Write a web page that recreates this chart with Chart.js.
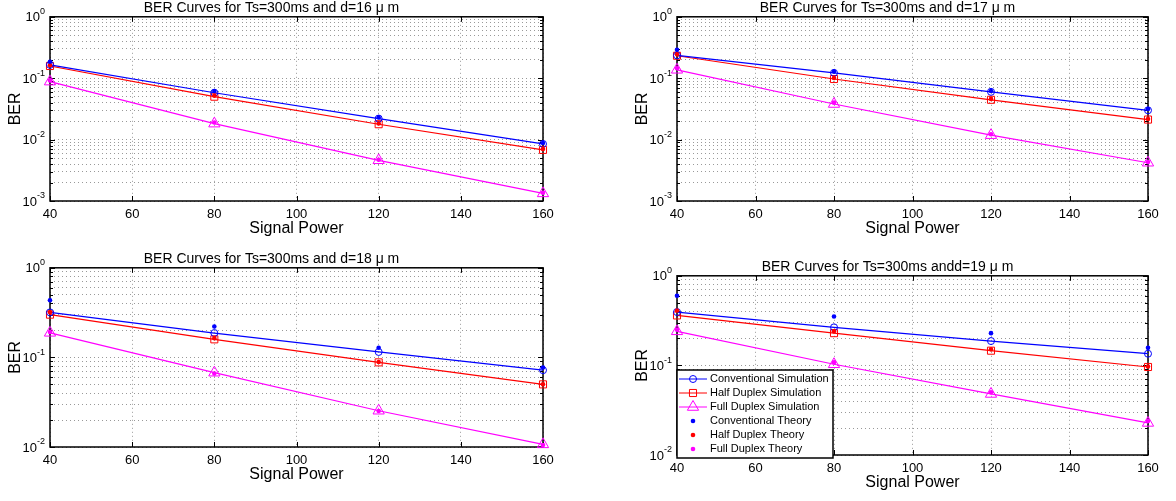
<!DOCTYPE html>
<html lang="en">
<head>
<meta charset="UTF-8">
<title>BER Curves</title>
<script src="https://cdn.jsdelivr.net/npm/chart.js"></script>
<style>
body {
    margin: 0;
    background: #fff;
    width: 1176px;
    height: 501px;
    position: relative;
    overflow: hidden;
}
canvas { position: absolute; }
</style>
</head>
<body>
<canvas id="c16" width="580" height="240" style="left:0;top:0"></canvas>
<canvas id="c17" width="586" height="240" style="left:590px;top:0"></canvas>
<canvas id="c18" width="580" height="253" style="left:0;top:248px"></canvas>
<canvas id="c19" width="586" height="245" style="left:590px;top:256px"></canvas>
<script>
// x positions and tick labels
const signalPower = [40, 80, 120, 160];
const xTicks = [40, 60, 80, 100, 120, 140, 160];
const seriesNames = ['Conventional Simulation', 'Half Duplex Simulation', 'Full Duplex Simulation',
                     'Conventional Theory', 'Half Duplex Theory', 'Full Duplex Theory'];

// d = 16 um  (y from 10^-3)
const convSim16 = [0.165, 0.058, 0.022, 0.0085];
const halfSim16 = [0.158, 0.050, 0.0178, 0.0068];
const fullSim16 = [0.088, 0.0182, 0.0046, 0.00133];
const convTh16  = [0.185, 0.062, 0.023, 0.0088];
const halfTh16  = [0.163, 0.052, 0.0183, 0.0070];
const fullTh16  = [0.092, 0.019, 0.0047, 0.00136];
const yExp16 = [-3, -2, -1, 0];

// d = 17 um
const convSim17 = [0.235, 0.122, 0.060, 0.030];
const halfSim17 = [0.232, 0.097, 0.0445, 0.0212];
const fullSim17 = [0.137, 0.038, 0.0118, 0.0042];
const convTh17  = [0.29, 0.128, 0.062, 0.0315];
const halfTh17  = [0.245, 0.101, 0.046, 0.0216];
const fullTh17  = [0.145, 0.040, 0.0122, 0.0043];
const yExp17 = [-3, -2, -1, 0];

// d = 18 um  (y from 10^-2)
const convSim18 = [0.318, 0.187, 0.115, 0.072];
const halfSim18 = [0.30, 0.159, 0.088, 0.050];
const fullSim18 = [0.188, 0.0675, 0.0254, 0.0107];
const convTh18  = [0.435, 0.221, 0.128, 0.077];
const halfTh18  = [0.32, 0.164, 0.089, 0.050];
const fullTh18  = [0.192, 0.066, 0.0252, 0.0105];
const yExp18 = [-2, -1, 0];

// d = 19 um
const convSim19 = [0.394, 0.266, 0.187, 0.135];
const halfSim19 = [0.361, 0.229, 0.146, 0.096];
const fullSim19 = [0.24, 0.103, 0.048, 0.0228];
const convTh19  = [0.60, 0.352, 0.229, 0.157];
const halfTh19  = [0.41, 0.24, 0.151, 0.097];
const fullTh19  = [0.25, 0.108, 0.050, 0.024];
const yExp19 = [-2, -1, 0];

const FONT = "'Liberation Sans', Arial, Helvetica, sans-serif";
const BLUE = '#0000ff', RED = '#ff0000', MAG = '#ff00ff';

// minor + major ticks of a log axis, 1..9 x 10^e
function logTicks(exps) {
    const out = [];
    for (let i = 0; i < exps.length - 1; i++) {
        for (let m = 1; m < 10; m++) out.push({ value: m * Math.pow(10, exps[i]), major: m === 1 });
    }
    out.push({ value: Math.pow(10, exps[exps.length - 1]), major: true });
    return out;
}

// box, inward ticks and 10^n labels, matlab look
const frame = {
    id: 'frame',
    beforeDatasetsDraw(chart) {
        const { ctx, chartArea: a, scales } = chart;
        ctx.save();
        ctx.strokeStyle = '#000';
        ctx.lineWidth = 1;
        ctx.beginPath();
        scales.x.ticks.forEach(t => {
            const px = Math.round(scales.x.getPixelForValue(t.value)) + 0.5;
            ctx.moveTo(px, a.bottom); ctx.lineTo(px, a.bottom - 5);
            ctx.moveTo(px, a.top); ctx.lineTo(px, a.top + 5);
        });
        scales.y.ticks.forEach(t => {
            const py = Math.round(scales.y.getPixelForValue(t.value)) + 0.5;
            const len = t.major ? 5 : 3;
            ctx.moveTo(a.left, py); ctx.lineTo(a.left + len, py);
            ctx.moveTo(a.right, py); ctx.lineTo(a.right - len, py);
        });
        ctx.stroke();
        ctx.lineWidth = 1.5;
        ctx.strokeRect(a.left, a.top, a.right - a.left, a.bottom - a.top);
        ctx.restore();
    },
    afterDraw(chart) {
        const { ctx, chartArea: a, scales } = chart;
        const exps = chart.options.plugins.frame.exps;
        ctx.save();
        ctx.fillStyle = '#000';
        ctx.textBaseline = 'middle';
        ctx.textAlign = 'left';
        exps.forEach(e => {
            const py = scales.y.getPixelForValue(Math.pow(10, e));
            const sup = String(e);
            ctx.font = '9px ' + FONT;
            const sw = ctx.measureText(sup).width;
            ctx.font = '13px ' + FONT;
            const bw = ctx.measureText('10').width;
            const xEnd = a.left - 5;
            ctx.fillText('10', xEnd - sw - bw, py + 1);
            ctx.font = '9px ' + FONT;
            ctx.fillText(sup, xEnd - sw, py - 5);
        });
        ctx.restore();
    }
};

// legend box inside the plot, lower left
const innerLegend = {
    id: 'innerLegend',
    afterDraw(chart) {
        if (!chart.options.plugins.innerLegend.show) return;
        const { ctx, chartArea: a } = chart;
        const sets = chart.data.datasets;
        const w = 156, rowH = 14, h = rowH * sets.length + 4;
        const x0 = a.left, y0 = a.bottom + 3 - h;
        ctx.save();
        ctx.fillStyle = '#fff';
        ctx.fillRect(x0, y0, w, h);
        ctx.strokeStyle = '#000';
        ctx.lineWidth = 1.5;
        ctx.strokeRect(x0, y0, w, h);
        ctx.font = '11px ' + FONT;
        ctx.textBaseline = 'middle';
        sets.forEach((ds, i) => {
            const cy = y0 + 9 + i * rowH;
            const mx = x0 + 16;
            ctx.strokeStyle = ds.borderColor;
            ctx.lineWidth = 1;
            if (ds.showLine) {
                ctx.beginPath();
                ctx.moveTo(x0 + 2, cy); ctx.lineTo(x0 + 30, cy);
                ctx.stroke();
            }
            ctx.fillStyle = ds.pointBackgroundColor;
            Chart.helpers.drawPoint(ctx, {
                pointStyle: ds.pointStyle, radius: ds.pointRadius, rotation: 0,
                borderWidth: ds.pointBorderWidth
            }, mx, cy);
            ctx.fillStyle = '#000';
            ctx.fillText(ds.label, x0 + 33, cy);
        });
        ctx.restore();
    }
};

function pts(ys) {
    return signalPower.map((x, i) => ({ x: x, y: ys[i] }));
}

function simSet(label, ys, color, style, r) {
    return {
        label: label, data: pts(ys), showLine: true,
        borderColor: color, borderWidth: 1.2,
        pointStyle: style, pointRadius: r, pointBorderWidth: 1,
        pointBorderColor: color, pointBackgroundColor: 'rgba(0,0,0,0)',
        clip: false, order: 1
    };
}

function thSet(label, ys, color) {
    return {
        label: label, data: pts(ys), showLine: false,
        borderColor: color, pointStyle: 'circle', pointRadius: 2.3,
        pointBorderWidth: 0, pointBorderColor: color, pointBackgroundColor: color,
        clip: false, order: 0
    };
}

function buildPanel(id, title, series, exps, geo, legend) {
    const datasets = [
        simSet(seriesNames[0], series[0], BLUE, 'circle', 3.5),
        simSet(seriesNames[1], series[1], RED, 'rect', 5),
        simSet(seriesNames[2], series[2], MAG, 'triangle', 6.5),
        thSet(seriesNames[3], series[3], BLUE),
        thSet(seriesNames[4], series[4], RED),
        thSet(seriesNames[5], series[5], MAG)
    ];

    new Chart(document.getElementById(id), {
        type: 'scatter',
        data: { datasets: datasets },
        plugins: [frame, innerLegend],
        options: {
            responsive: false,
            animation: false,
            devicePixelRatio: 1,
            layout: { padding: { left: geo.pl, right: geo.pr, top: geo.pt, bottom: geo.pb } },
            plugins: {
                legend: { display: false },
                tooltip: { enabled: false },
                title: {
                    display: true, text: title, color: '#000',
                    font: { family: FONT, size: 14, weight: 'normal' },
                    padding: { top: 0, bottom: 0 }
                },
                frame: { exps: exps },
                innerLegend: { show: legend }
            },
            scales: {
                x: {
                    type: 'linear', min: 40, max: 160,
                    afterBuildTicks: s => { s.ticks = xTicks.map(v => ({ value: v })); },
                    afterFit: s => { s.height = 39; },
                    grid: { color: 'rgba(0,0,0,0.4)', drawTicks: false },
                    border: { display: false, dash: [1, 3] },
                    ticks: { color: '#000', padding: 6, font: { family: FONT, size: 13 } },
                    title: {
                        display: true, text: 'Signal Power', color: '#000',
                        font: { family: FONT, size: 16 }, padding: { top: 0, bottom: 2 }
                    }
                },
                y: {
                    type: 'logarithmic',
                    min: Math.pow(10, exps[0]), max: Math.pow(10, exps[exps.length - 1]),
                    afterBuildTicks: s => { s.ticks = logTicks(exps); },
                    afterFit: s => { s.width = 50; },
                    grid: { color: 'rgba(0,0,0,0.4)', drawTicks: false },
                    border: { display: false, dash: [1, 3] },
                    ticks: { display: false },
                    title: {
                        display: true, text: 'BER', color: '#000',
                        font: { family: FONT, size: 16 }, padding: { top: 6, bottom: 0 }
                    }
                }
            }
        }
    });
}

buildPanel('c16', 'BER Curves for Ts=300ms and d=16 \u03bc m',
    [convSim16, halfSim16, fullSim16, convTh16, halfTh16, fullTh16], yExp16,
    { pl: 0, pr: 37, pt: 0, pb: 0 }, false);
buildPanel('c17', 'BER Curves for Ts=300ms and d=17 \u03bc m',
    [convSim17, halfSim17, fullSim17, convTh17, halfTh17, fullTh17], yExp17,
    { pl: 37, pr: 28, pt: 0, pb: 0 }, false);
buildPanel('c18', 'BER Curves for Ts=300ms and d=18 \u03bc m',
    [convSim18, halfSim18, fullSim18, convTh18, halfTh18, fullTh18], yExp18,
    { pl: 0, pr: 37, pt: 3, pb: 15 }, false);
buildPanel('c19', 'BER Curves for Ts=300ms andd=19 \u03bc m',
    [convSim19, halfSim19, fullSim19, convTh19, halfTh19, fullTh19], yExp19,
    { pl: 37, pr: 28, pt: 3, pb: 7 }, true);
</script>
</body>
</html>
